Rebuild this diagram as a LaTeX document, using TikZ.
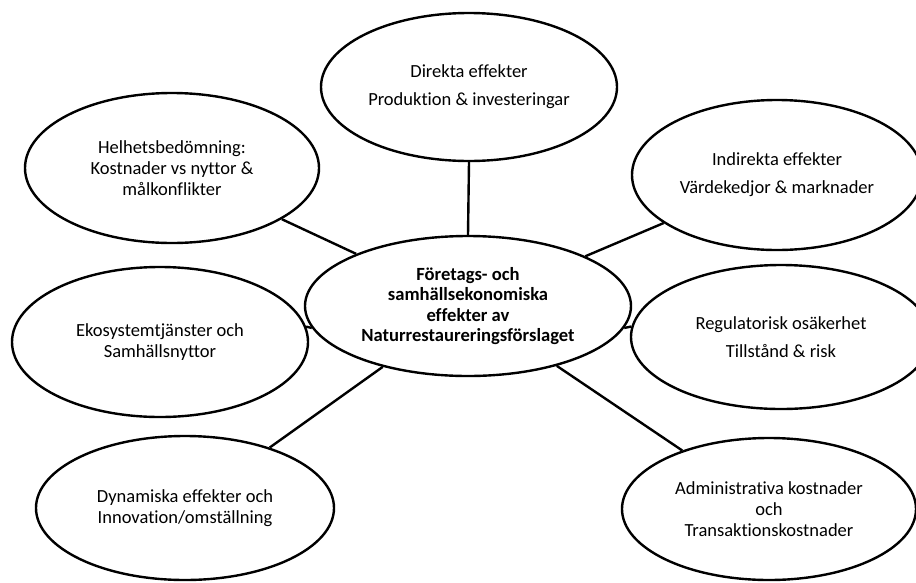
\documentclass[tikz,border=0pt]{standalone}
\usepackage{fontspec}
\setmainfont{Carlito}[Ligatures=NoCommon]
\usetikzlibrary{shapes.geometric}

\begin{document}
\begin{tikzpicture}[x=1pt, y=-1pt, line width=2.4pt,
    font=\fontsize{18.5}{21}\selectfont,
    topic/.style={ellipse, draw, inner sep=0pt, align=center},
    hub/.style={topic, font=\fontsize{18.6}{20.5}\selectfont\bfseries}]
    \useasboundingbox (0,0) rectangle (916,582);
    \node[hub, minimum width=326pt, minimum height=140pt] (c) at (468,306)
        {Företags- och\\samhällsekonomiska\\effekter av\\Naturrestaureringsförslaget};
    \node[topic, minimum width=296pt, minimum height=148pt] (top) at (469,87)
        {Direkta effekter\\[7pt]Produktion \& investeringar};
    \node[topic, minimum width=294pt, minimum height=150pt] (hel) at (172,168)
        {Helhetsbedömning:\\Kostnader vs nyttor \&\\målkonflikter};
    \node[topic, minimum width=290pt, minimum height=150pt] (ind) at (777,175)
        {Indirekta effekter\\[7pt]Värdekedjor \& marknader};
    \node[topic, minimum width=296pt, minimum height=150pt] (eko) at (160,342)
        {Ekosystemtjänster och\\Samhällsnyttor};
    \node[topic, minimum width=300pt, minimum height=144pt] (reg) at (781,337)
        {Regulatorisk osäkerhet\\[7pt]Tillstånd \& risk};
    \node[topic, minimum width=298pt, minimum height=144pt] (dyn) at (185,508)
        {Dynamiska effekter och\\Innovation/omställning};
    \node[topic, minimum width=294pt, minimum height=142pt] (adm) at (769,509)
        {Administrativa kostnader\\och\\Transaktionskostnader};
    \path
    (c.north) edge (top.south)
    (c) edge (hel)
        edge (ind)
        edge (dyn)
        edge (adm)
    (c.188) edge (eko.6)
    (c.-8) edge (reg.176);
\end{tikzpicture}
\end{document}
